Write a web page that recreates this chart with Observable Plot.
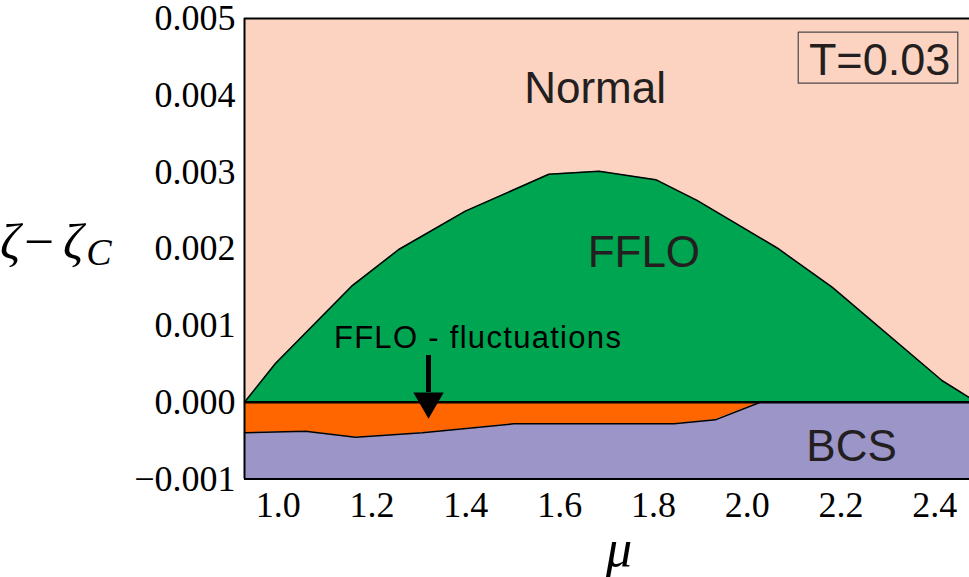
<!DOCTYPE html>
<html><head><meta charset="utf-8">
<script src="https://cdn.jsdelivr.net/npm/d3@7"></script>
<script src="https://cdn.jsdelivr.net/npm/@observablehq/plot@0.6"></script>
<style>
html,body{margin:0;padding:0;background:#fff;overflow:hidden}
#chart{position:relative;width:969px;height:577px}
</style></head><body><div id="chart"></div>
<script>
// axis domains and ticks
const xDomain = [0.928, 2.474];
const yDomain = [-0.001, 0.005];
const xTicks = [1.0, 1.2, 1.4, 1.6, 1.8, 2.0, 2.2, 2.4];
const yTicks = [-0.001, 0, 0.001, 0.002, 0.003, 0.004, 0.005];

// FFLO / Normal boundary
const ffloMu   = [0.928, 0.994, 1.158, 1.257, 1.399, 1.577, 1.684, 1.805, 1.893, 2.064, 2.181, 2.416, 2.474];
const ffloZeta = [0, 0.000505, 0.00152, 0.00199, 0.00249, 0.00297, 0.00301, 0.00290, 0.00263, 0.00201, 0.00150, 0.00028, 0.00006];

// BCS / FFLO-fluctuation boundary
const bcsMu   = [0.928, 1.058, 1.165, 1.307, 1.502, 1.844, 1.932, 2.028, 2.474];
const bcsZeta = [-0.000398, -0.000377, -0.000455, -0.000398, -0.000281, -0.000281, -0.000229, 0, 0];

// region labels
const regionLabels = ["Normal", "FFLO", "BCS"];
const labelMu = [1.6755, 1.7796, 2.2225];
const labelZeta = [0.003893, 0.001756, -0.000759];

// annotation
const fluctLabel = "FFLO - fluctuations";
const fluctMu = 1.426, fluctZeta = 0.000713;
const arrowMu = 1.3204;
const arrowZeta = [0.000609, 0.000127];
const arrowHeadZeta = 0.0000137;

const tempLabel = "T=0.03";
const tempMu = 2.2822, tempZeta = 0.00427;
const tBoxMu = [2.1088, 2.449];
const tBoxZeta = [0.004157, 0.004822];

const colors = {normal: "#FCD3C1", fflo: "#00A551", fluct: "#FF6600", bcs: "#9B95C8", text: "#231F20"};

const fflo = ffloMu.map((m, i) => ({mu: m, z: ffloZeta[i]}));
const bcs = bcsMu.map((m, i) => ({mu: m, z: bcsZeta[i]}));
const bcsLine = bcs.filter(d => d.mu <= 2.028);
const tBox = [
  {mu: tBoxMu[0], z: tBoxZeta[0]}, {mu: tBoxMu[1], z: tBoxZeta[0]},
  {mu: tBoxMu[1], z: tBoxZeta[1]}, {mu: tBoxMu[0], z: tBoxZeta[1]},
  {mu: tBoxMu[0], z: tBoxZeta[0]}
];

const svg = Plot.plot({
  width: 969,
  height: 577,
  marginLeft: 244,
  marginRight: 0,
  marginTop: 18,
  marginBottom: 98.5,
  style: {fontFamily: "Liberation Serif", fontSize: "36px", background: "white"},
  x: {domain: xDomain},
  y: {domain: yDomain},
  marks: [
    Plot.frame({fill: colors.normal, stroke: "none"}),
    Plot.areaY(fflo, {x: "mu", y1: 0, y2: "z", fill: colors.fflo}),
    Plot.areaY(bcs, {x: "mu", y1: "z", y2: 0, fill: colors.fluct}),
    Plot.areaY(bcs, {x: "mu", y1: yDomain[0], y2: "z", fill: colors.bcs}),
    Plot.line(fflo, {x: "mu", y: "z", stroke: "#000", strokeWidth: 1.5}),
    Plot.line(bcsLine, {x: "mu", y: "z", stroke: "#000", strokeWidth: 1.5}),
    Plot.ruleY([0], {stroke: "#000", strokeWidth: 2.5}),
    Plot.ruleY(yDomain, {stroke: "#000", strokeWidth: 2}),
    Plot.ruleX([xDomain[0]], {stroke: "#000", strokeWidth: 2}),
    Plot.text(regionLabels, {x: (d, i) => labelMu[i], y: (d, i) => labelZeta[i], text: d => d,
      fontFamily: "Liberation Sans", fontSize: 44, fill: colors.text, textAnchor: "middle", lineAnchor: "bottom"}),
    Plot.text([fluctLabel], {x: fluctMu, y: fluctZeta, text: d => d,
      fontFamily: "Liberation Sans", fontSize: 31, fill: "#000", textAnchor: "middle", lineAnchor: "bottom"}),
    Plot.ruleX([arrowMu], {y1: arrowZeta[0], y2: arrowZeta[1], stroke: "#000", strokeWidth: 5}),
    Plot.dot([arrowMu], {x: d => d, y: arrowHeadZeta, symbol: "triangle", r: 11.3, rotate: 180, fill: "#000", stroke: "none"}),
    Plot.line(tBox, {x: "mu", y: "z", stroke: "#4a4a4a", strokeWidth: 1.2}),
    Plot.text([tempLabel], {x: tempMu, y: tempZeta, text: d => d,
      fontFamily: "Liberation Sans", fontSize: 45, fill: colors.text, textAnchor: "middle", lineAnchor: "bottom"}),
    Plot.axisX({ticks: xTicks, tickSize: 0, tickPadding: 12, tickFormat: d3.format(".1f"), label: null,
      fontFamily: "Liberation Serif", fontSize: 36, fontWeight: "normal", fill: "#000", stroke: "none"}),
    Plot.axisY({ticks: yTicks, tickSize: 0, tickPadding: 9, tickFormat: d3.format(".3f"), label: null,
      fontFamily: "Liberation Serif", fontSize: 36, fontWeight: "normal", fill: "#000", stroke: "none"})
  ]
});

const s = d3.select(svg);
s.selectAll("text").filter(function () { return this.textContent === fluctLabel; })
  .style("letter-spacing", "1.3px");

// axis titles
const yl = s.append("g").attr("font-family", "Liberation Serif").attr("fill", "#000");
yl.append("text").attr("x", 10).attr("y", 259).attr("font-size", 50).attr("font-style", "italic").text("ζ");
yl.append("text").attr("x", 39).attr("y", 259).attr("font-size", 52)
  .attr("textLength", 30).attr("lengthAdjust", "spacingAndGlyphs").text("−");
yl.append("text").attr("x", 73).attr("y", 259).attr("font-size", 50).attr("font-style", "italic").text("ζ");
yl.append("text").attr("x", 99).attr("y", 265).attr("font-size", 38).attr("font-style", "italic").text("C");
s.append("text").attr("x", 619).attr("y", 566).attr("text-anchor", "middle")
  .attr("font-family", "Liberation Serif").attr("font-size", 52).attr("font-style", "italic").attr("fill", "#000").text("μ");

document.getElementById("chart").appendChild(svg);
</script>
</body></html>
